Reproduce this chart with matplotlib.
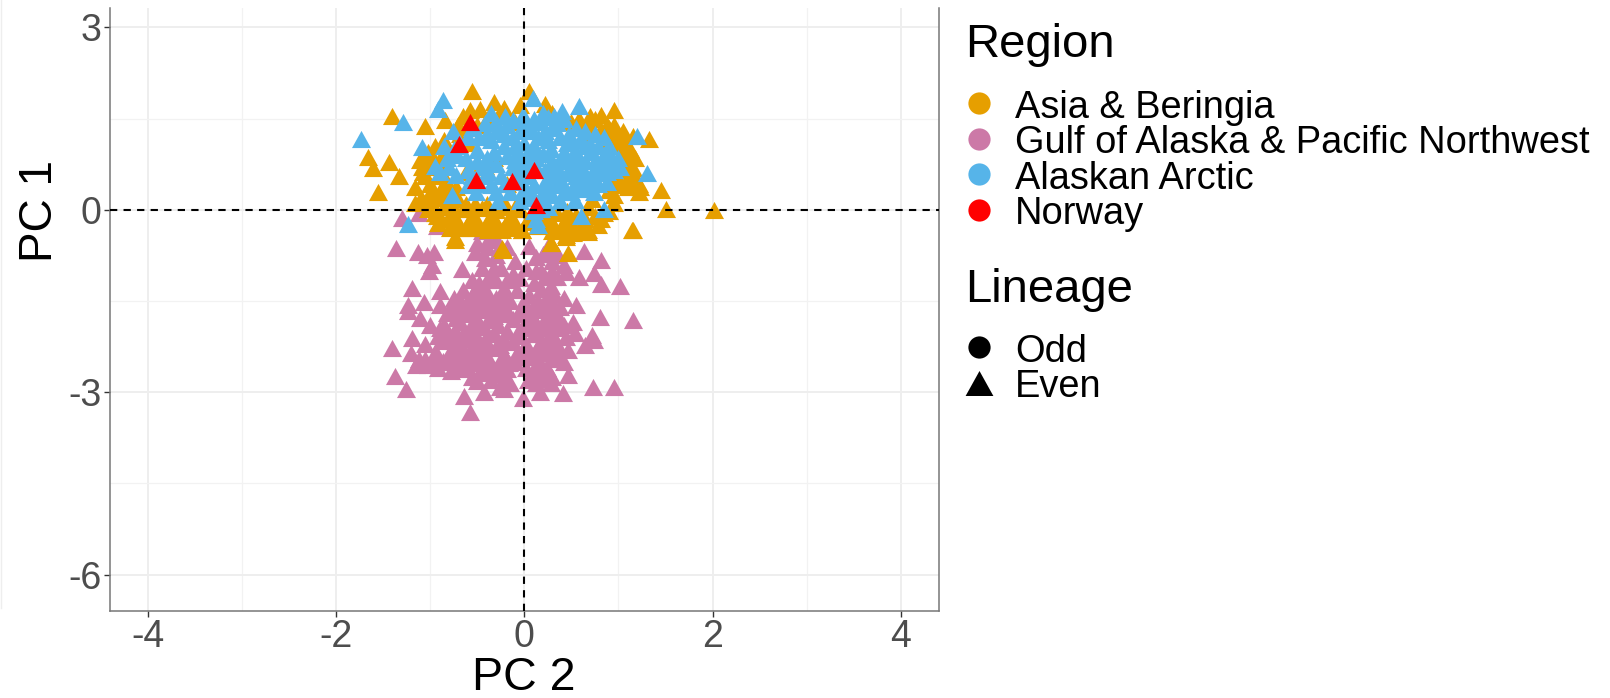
import matplotlib
matplotlib.use("Agg")
import matplotlib.pyplot as plt
from matplotlib.lines import Line2D

plt.rcParams['font.family'] = ['Liberation Sans', 'DejaVu Sans']

regions = ["Asia & Beringia", "Gulf of Alaska & Pacific Northwest", "Alaskan Arctic", "Norway"]
colors = ["#E69F00", "#CC79A7", "#56B4E9", "#FF0000"]

# (PC 2, PC 1) pairs
pink_points = [(-1.36,-0.63),(-1.13,-0.70),(-1.03,-0.74),(-0.96,-0.70),(-0.98,-0.90),(-1.01,-1.01),(-0.66,-0.98),(-1.19,-1.29),
 (-0.90,-1.33),(-1.07,-1.51),(-1.23,-1.56),(-1.24,-1.67),(-0.89,-1.56),(-1.11,-1.78),(-1.41,-2.28),(-1.19,-2.11),(-1.37,-2.74),
 (-1.26,-2.95),(-0.64,-3.06),(-0.58,-3.32),(-0.43,-2.99),(-0.01,-3.10),(-0.26,-2.91),(0.17,-2.99),(0.41,-3.02),(0.46,-2.72),
 (0.73,-2.91),(0.95,-2.92),(1.15,-1.82),(0.80,-1.77),(1.02,-1.25),(0.82,-1.22),(0.81,-0.83),(0.63,-0.67),(0.74,-1.04),(0.58,-1.10),
 (0.44,-1.03),(0.55,-1.56),(0.52,-1.84),(0.54,-2.03),(0.72,-2.06),(0.74,-2.14),(0.64,-2.22),(-1.30,-0.14),(-1.12,-0.05),(-0.93,-0.27),
 (-0.45,-0.35),(-0.50,-0.55),(-0.38,-0.50),(-0.30,-0.75),(-0.42,-0.80),(-0.52,-0.70),(-0.35,-1.05),(-0.25,-0.95),(-0.18,-0.62),
 (-0.10,-0.85),(-0.05,-1.12),(0.05,-0.60),(0.12,-0.78),(0.20,-0.72),(0.25,-0.60),(0.30,-0.85),(0.18,-1.00),(0.10,-1.20),(0.28,-1.25),
 (0.35,-1.10),(0.32,-1.38),(0.25,-1.55),(0.38,-1.60),(0.15,-1.50),(0.05,-1.40),(-0.08,-1.32),(-0.15,-1.50),(-0.22,-1.28),(-0.30,-1.45),
 (-0.40,-1.35),(-0.48,-1.20),(-0.55,-1.40),(-0.62,-1.55),(-0.70,-1.65),(-0.75,-1.45),(-0.82,-1.70),(-0.85,-1.90),(-0.80,-2.05),
 (-0.68,-1.85),(-0.58,-1.70),(-0.50,-1.80),(-0.42,-1.65),(-0.32,-1.75),(-0.20,-1.62),(-0.12,-1.80),(-0.02,-1.95),(0.08,-1.75),
 (0.14,-1.90),(0.22,-1.80),(0.30,-1.70),(0.36,-1.95),(0.28,-2.05),(0.18,-2.15),(0.10,-2.05),(0.02,-2.20),(-0.08,-2.05),(-0.18,-2.00),
 (-0.28,-1.90),(-0.38,-2.05),(-0.48,-2.15),(-0.58,-2.00),(-0.68,-2.20),(-0.78,-2.30),(-0.88,-2.15),(-0.95,-2.35),(-1.05,-2.20),
 (-1.12,-2.45),(-1.20,-2.35),(-1.15,-2.55),(-1.02,-2.55),(-0.92,-2.40),(-0.80,-2.50),(-0.70,-2.35),(-0.60,-2.45),(-0.50,-2.30),
 (-0.40,-2.40),(-0.30,-2.25),(-0.20,-2.40),(-0.10,-2.50),(0.20,-2.35),(0.30,-2.30),(0.15,-2.50),(0.24,-2.60),(0.08,-2.70),(-0.35,-2.55),
 (-0.28,-2.70),(-0.45,-2.60),(-0.55,-2.75),(-0.65,-2.55),(-0.92,-2.60),(-1.05,-2.45),(-1.00,-1.90),(-0.78,-2.65),(-0.60,-2.60),
 (-0.35,-2.80),(-0.15,-2.85),(0.22,-2.70),(0.30,-2.75),(0.12,-2.85),(0.35,-2.20),(-0.22,-2.95),(-0.38,-2.60),(-0.48,-2.40),(0.15,-2.05),
 (-0.90,-1.95),(-0.72,-2.15),(-0.55,-2.25),(-0.42,-1.45),(-0.30,-1.15),(-0.12,-1.05),(0.02,-0.95),(0.32,-2.10),(0.36,-2.45),
 (-0.78,-1.62),(-0.72,-1.78),(-0.62,-1.72),(-0.52,-1.62),(-0.45,-1.52),(-0.36,-1.58),(-0.26,-1.55),(-0.16,-1.72),(-0.06,-1.68),
 (-0.28,-1.68),(-0.38,-1.82),(-0.46,-1.92),(-0.56,-1.88),(-0.64,-2.02),(-0.74,-1.98),(-0.84,-2.02),(-0.92,-2.08),
 (-0.76,-2.12),(-0.62,-2.12),(-0.52,-2.05),(-0.42,-2.15),(-0.32,-2.02),(-0.22,-2.12),(-0.12,-2.18),(-0.04,-2.08),(-0.26,-2.22),
 (-0.36,-2.28),(-0.46,-2.22),(-0.58,-2.32),(-0.66,-2.38),(-0.76,-2.42),(-0.86,-2.48),(-0.96,-2.48),
 (-0.70,-2.50),(-0.52,-2.52),(-0.40,-2.52),(-0.26,-2.48),(-0.16,-2.52),(-0.30,-2.62),(-0.18,-2.62),(-0.42,-2.68),(-0.50,-2.82),
 (-0.20,-2.75),(-0.08,-2.35),(-0.02,-2.32),(0.05,-2.32),(0.12,-2.30),(0.22,-2.20),(0.28,-2.45),(0.35,-2.32),(0.12,-2.42),(0.20,-2.60),
 (0.10,-2.62),(0.18,-2.78),(0.28,-2.85),(0.22,-1.95),(0.10,-1.90),(0.30,-1.85),(0.36,-1.75),(0.30,-1.55),(0.20,-1.65),(0.10,-1.58),
 (0.25,-1.40),(0.18,-1.30),(0.30,-1.10),(0.22,-1.10),(0.12,-1.00),(-0.18,-1.15),(-0.40,-1.15),(-0.45,-0.95),(-0.40,-0.62),(-0.32,-0.45),
 (-0.26,-0.60),(-0.32,-0.95),(-0.22,-1.45),(-0.48,-1.35),(-0.58,-1.58),(-0.65,-1.32),(-0.55,-1.15),(-0.68,-1.48),(0.28,-0.72),(0.36,-0.75),
 (0.42,-0.90),(0.30,-1.00),(-0.62,-2.62),(-0.72,-2.60),
 (0.00,-1.50),(0.02,-1.72),(0.03,-1.92),(0.00,-2.42),(0.02,-2.60),(0.04,-2.80),(0.42,-1.90),(0.44,-2.10),(0.46,-2.30),(0.42,-2.50),(0.42,-1.45)]

orange_points = [(-0.55,1.95),(0.05,1.95),(-0.32,1.77),(-0.22,1.67),(0.22,1.74),(0.95,1.65),(0.81,1.56),(-1.40,1.54),(-1.05,1.38),
 (-0.84,1.48),(-0.58,1.65),(-0.47,1.66),(-0.04,1.73),(1.32,1.16),(1.15,1.21),(-1.66,0.87),(-1.61,0.69),(-1.44,0.78),(-1.33,0.56),
 (-1.55,0.29),(-1.16,0.38),(-1.11,0.82),(-1.09,0.71),(-1.16,0.11),(1.45,0.33),(1.51,0.01),(2.02,0.00),(1.15,-0.33),(1.23,0.38),
 (1.22,0.30),(1.09,0.71),(1.06,0.93),(0.99,0.55),(0.95,0.11),(0.68,0.05),(0.68,-0.36),(0.44,-0.41),(0.28,-0.55),(-0.74,-0.49),
 (-0.79,-0.30),(-0.93,-0.11),(-0.24,-0.33),(-0.02,-0.33),(-0.24,-0.63),(-0.23,-0.66),(0.28,-0.55),(0.47,-0.71),(0.44,-0.44),(0.68,-0.33),
 (1.14,-0.33),(-0.74,-0.44),(-0.02,-0.33),(-1.02,0.02),(-0.95,-0.05),(-0.85,0.05),(-0.75,-0.08),(-0.65,0.02),(-0.55,-0.10),(-0.45,0.03),
 (-0.35,-0.08),(-0.25,0.04),(-0.15,-0.10),(-0.05,0.02),(0.05,-0.12),(0.15,-0.05),(0.25,-0.10),(0.35,-0.05),(0.45,-0.15),(0.55,-0.08),
 (0.65,-0.15),(0.75,-0.10),(0.85,-0.05),(-1.00,0.28),(-0.90,0.20),(-0.80,0.24),(-0.70,0.17),(-0.60,-0.22),(-0.50,-0.18),(-0.40,-0.24),
 (-0.30,-0.20),(-0.20,-0.26),(-0.10,-0.22),(0.22,-0.22),(0.32,-0.26),(0.42,-0.22),(0.52,-0.28),(0.62,-0.20),(0.78,-0.25),(-0.92,0.55),
 (-0.82,0.45),(-0.72,0.38),(-0.62,0.62),(-0.52,0.55),(-0.42,0.72),(-0.32,0.85),(-0.18,0.42),(0.95,1.40),(1.05,1.30),(1.12,1.00),
 (1.18,0.85),(1.02,0.65),(0.92,0.48),(0.85,1.10),(0.72,1.25),(0.62,1.35),(0.50,1.45),(0.75,1.50),(0.88,1.40),(1.00,1.20),(1.10,0.50),
 (1.20,0.42),(-1.02,0.95),(-0.95,0.80),(-0.85,0.95),(-1.00,0.42),(-0.92,-0.22),(-0.68,1.25),(-0.60,1.10),(-0.40,1.50),(-0.65,1.55),
 (-0.50,1.40),(-0.28,1.55),(-0.10,1.45),(0.30,1.60),(0.58,1.50),(0.70,1.55),(0.90,1.35),
 (-1.10,0.20),(-1.05,0.12),(-0.98,0.12),(-0.88,-0.15),(-0.80,-0.12),(-0.72,-0.18),(-0.68,-0.30),(-0.58,-0.30),(-0.48,-0.30),(-0.38,-0.34),
 (-0.30,-0.32),(-0.15,-0.30),(-0.62,0.10),(-0.52,0.10),(-0.40,0.10),(-0.30,0.00),(-0.20,0.10),(-0.10,0.05),(0.05,-0.20),(0.14,-0.26),
 (0.30,-0.35),(0.38,-0.32),(0.52,-0.38),(0.60,-0.30),(0.82,-0.15),(0.90,-0.02),(-0.88,0.35),(-0.78,0.12),(-1.05,0.55),(-1.08,0.62),
 (-0.98,0.70),(-0.88,0.78),(-1.02,0.82),(-0.95,1.05),(-0.85,1.15),(-0.70,1.40),(-0.62,1.35),(1.00,1.05),(1.08,0.78),(1.15,0.68),
 (1.15,0.60),(1.10,0.38),(1.00,0.40),(1.05,1.12),(0.92,1.22),(0.80,1.30),(0.70,1.40),(1.22,0.42),(-0.60,0.02),(0.45,-0.02),(0.72,0.18),
 (0.95,0.25),(0.90,0.32)]

blue_points = [(-1.73,1.17),(-1.29,1.44),(-0.86,1.80),(-0.92,1.66),(-1.09,1.03),(-0.76,1.29),(0.09,1.84),(0.58,1.70),(0.40,1.62),
 (1.20,1.22),(1.30,0.60),(-0.77,0.25),(-0.51,0.30),(-1.23,-0.23),(0.60,-0.10),(0.85,0.01),(0.54,0.16),(0.74,0.30),
 (-0.70,1.05),(-0.62,0.85),(-0.80,0.70),(-0.90,0.62),(-0.72,0.58),(-0.60,0.66),(-0.50,0.98),(-0.42,1.42),(-0.30,1.45),(-0.18,1.40),
 (-0.12,1.47),(-0.35,1.15),(-0.22,1.05),(-0.40,0.85),(-0.30,0.75),(-0.18,0.88),(-0.01,1.56),(0.18,1.45),(0.22,1.30),(0.35,1.42),
 (0.38,1.20),(0.10,1.05),(0.00,1.10),(-0.08,0.95),(0.12,0.85),(0.28,1.00),(0.42,0.95),(0.30,0.80),(0.15,0.65),(0.05,0.55),(-0.12,0.70),
 (-0.25,0.55),(-0.35,0.40),(-0.15,0.30),(0.00,0.35),(-0.28,0.15),(-0.05,0.15),(0.22,0.45),(0.35,0.55),(0.50,0.70),(0.55,0.95),
 (0.65,0.80),(0.72,0.95),(0.85,0.90),(0.90,0.75),(0.95,0.65),(0.80,0.60),(0.70,0.50),(0.55,0.45),(0.42,0.30),(0.30,0.25),(0.20,0.15),
 (0.12,-0.15),(0.15,-0.25),(0.65,0.60),(0.88,0.45),(0.60,0.35),(-0.05,0.75),(0.48,1.25),
 (-0.55,1.35),(-0.48,1.20),(-0.40,1.25),(-0.30,1.30),(-0.22,1.25),(-0.12,1.20),(-0.05,1.30),(0.08,1.30),(0.15,1.20),(0.25,1.15),(0.30,1.35),
 (0.42,1.50),(0.50,1.10),(0.60,1.15),(0.65,1.05),(0.78,1.05),(0.45,1.10),(0.40,0.80),(0.50,0.85),(0.58,0.75),(0.75,0.80),(0.80,0.75),
 (0.75,0.68),(0.60,0.65),(0.45,0.60),(0.40,0.45),(0.50,0.30),(0.62,0.42),(0.78,0.42),(0.32,0.40),(0.20,0.30),(0.10,0.40),(0.05,0.25),
 (0.10,0.20),(-0.02,0.45),(-0.10,0.50),(-0.20,0.42),(-0.30,0.30),(-0.38,0.62),(-0.45,0.70),(-0.50,0.80),(-0.55,0.55),(-0.48,0.42),
 (-0.42,0.55),(-0.32,0.95),(-0.10,0.82),(-0.02,0.62),(0.05,0.75),(0.22,0.65),(0.20,0.92),(0.12,0.98),(0.02,0.88),(-0.10,1.05),(0.30,0.60),
 (0.35,0.70),(0.25,0.05),(0.10,-0.02),(0.18,0.02),(-0.72,0.90),(-0.82,0.85),(0.00,1.40),(0.10,1.50),(0.25,1.52),(0.88,0.62),(0.92,0.88),
 (0.70,1.08),(0.55,0.55),(0.70,0.38),(0.38,0.15),(-0.60,0.40),
 (-0.75,1.00),(-0.85,1.05),(-0.95,0.72),(-0.60,1.20),(0.55,1.35),(0.65,1.30),(0.75,1.25),(0.85,1.20),(0.90,1.05),(1.00,0.85),(1.02,0.70),
 (-0.35,1.60),(-0.20,1.55),(0.20,1.60),(0.32,1.55)]

red_points = [(-0.58,1.45),(-0.69,1.09),(-0.51,0.49),(-0.13,0.47),(0.10,0.66),(0.13,0.08)]

xticks = [-4,-2,0,2,4]
yticks = [-6,-3,0,3]
xminor = [-3,-1,1,3]
yminor = [-4.5,-1.5,1.5]

W,H = 1610,698
fig = plt.figure(figsize=(W/100,H/100),dpi=100)
ax = fig.add_axes([110/W, 1-611/H, (938.5-110)/W, (611-8)/H])
ax.set_xlim(-4.4,4.4)
ax.set_ylim(-6.6,3.32)
ax.set_axisbelow(True)
ax.set_xticks(xticks); ax.set_yticks(yticks)
ax.set_xticks(xminor,minor=True); ax.set_yticks(yminor,minor=True)
ax.grid(True,which='major',color='#EEEEEE',lw=1.4)
ax.grid(True,which='minor',color='#F2F2F2',lw=0.9)
ax.tick_params(which='minor',length=0)
ax.tick_params(which='major',length=4,width=1,color='#333333',labelsize=27,labelcolor='#4D4D4D',pad=2)
ax.set_xticklabels([str(v) for v in xticks]); ax.set_yticklabels([str(v) for v in yticks])
for s in ax.spines.values():
    s.set_color('#777777'); s.set_linewidth(1.1)
ax.spines['top'].set_visible(False)
fig.text(524/W,1-678/H,"PC 2",fontsize=33.5,ha='center',va='center')
fig.text(40/W,1-211/H,"PC 1",rotation=90,fontsize=33,ha='center',va='center')

tri = [(-1,-0.9),(1,-0.9),(0,0.9),(-1,-0.9)]
kw = dict(marker=tri,s=188,linewidths=0,zorder=3)
for pts,c in ((pink_points,colors[1]),(orange_points,colors[0]),(blue_points,colors[2]),(red_points,colors[3])):
    ax.scatter([p[0] for p in pts],[p[1] for p in pts],c=c,**kw)
ax.axhline(0,color='black',ls=(0,(3.5,3)),lw=1.5,zorder=4)
ax.axvline(0,color='black',ls=(0,(3.5,3)),lw=1.5,zorder=4)

fig.add_artist(Line2D([0.5/W,0.5/W],[1,1-608/H],color='#EEEEEE',lw=1))

fig.text(965/W,1-45/H,"Region",fontsize=34,ha='left',va='center')
fig.text(965/W,1-290/H,"Lineage",fontsize=34,ha='left',va='center')

lkw = dict(loc='upper left',frameon=False,fontsize=27.4,labelspacing=-0.04,
    handletextpad=0.45,handlelength=1.0,borderpad=0,borderaxespad=0,handleheight=0.9)
h1 = [Line2D([],[],ls='',marker='o',ms=16,mew=0,color=c) for c in colors]
fig.legend(h1,regions,bbox_to_anchor=(960/W,1-89/H),**lkw)
h2 = [Line2D([],[],ls='',marker='o',ms=16,mew=0,color='black'),
      Line2D([],[],ls='',marker=tri,ms=20,mew=0,color='black')]
fig.legend(h2,["Odd","Even"],bbox_to_anchor=(960/W,1-333/H),**lkw)
fig.savefig("out.png",dpi=100)
